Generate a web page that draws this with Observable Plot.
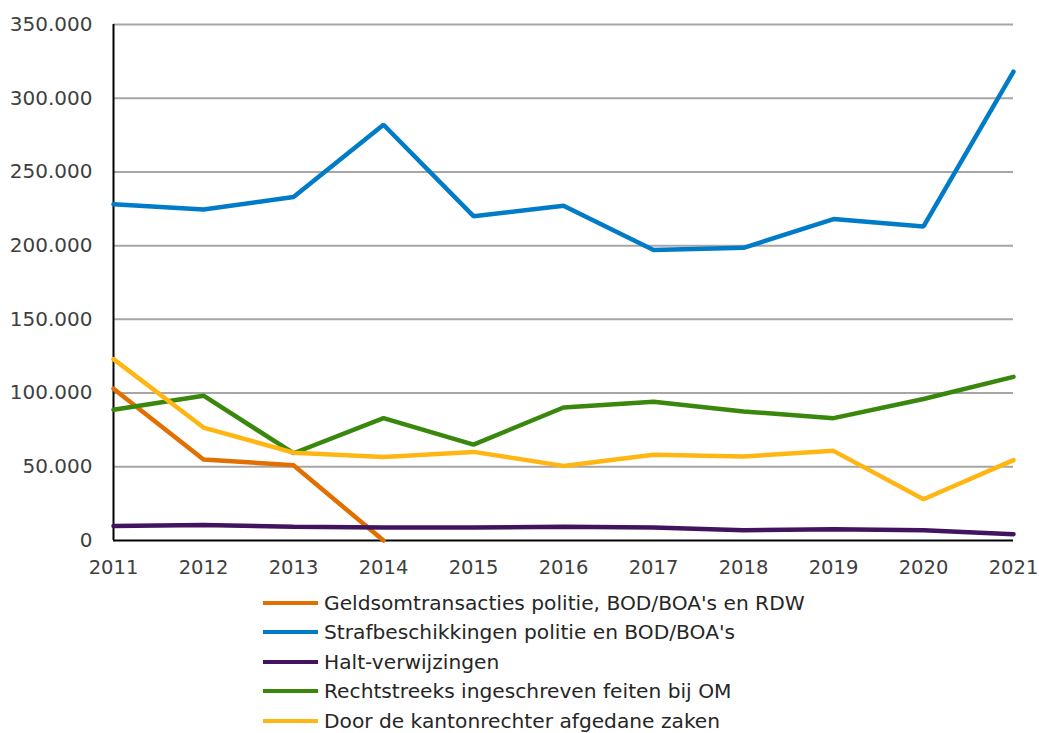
<!DOCTYPE html>
<html>
<head>
<meta charset="utf-8">
<script src="https://cdn.jsdelivr.net/npm/d3@7"></script>
<script src="https://cdn.jsdelivr.net/npm/@observablehq/plot@0.6"></script>
<style>
  body { margin: 0; background: #fff; font-family: "DejaVu Sans", Verdana, sans-serif; }
  #chart svg { display: block; overflow: visible; }
  #legend { padding-left: 263px; }
  .row { height: 29.5px; display: flex; align-items: center; font-size: 20.2px; color: #262626; white-space: nowrap; }
  .sw { width: 55px; height: 4px; margin-right: 6px; }
</style>
</head>
<body>
<div id="chart"></div>
<div id="legend"></div>
<script>
const years = [2011, 2012, 2013, 2014, 2015, 2016, 2017, 2018, 2019, 2020, 2021];
const seriesNames = [
  "Geldsomtransacties politie, BOD/BOA's en RDW",
  "Strafbeschikkingen politie en BOD/BOA's",
  "Halt-verwijzingen",
  "Rechtstreeks ingeschreven feiten bij OM",
  "Door de kantonrechter afgedane zaken"
];
const seriesColors = ["#E17000", "#007BC7", "#42145F", "#39870C", "#FFB612"];
const geldsom = [103000, 55000, 51000, 0, null, null, null, null, null, null, null];
const strafbeschikkingen = [228000, 224500, 233000, 282000, 220000, 227000, 197000, 198500, 218000, 213000, 318000];
const halt = [9800, 10500, 9300, 8800, 8800, 9400, 8800, 7000, 7600, 7000, 4300];
const rechtstreeks = [88700, 98200, 59200, 83000, 65000, 90200, 94100, 87500, 83000, 96000, 111000];
const kantonrechter = [123000, 76600, 59600, 56700, 60100, 50600, 58100, 57000, 60800, 28000, 54500];
const yTicks = [0, 50000, 100000, 150000, 200000, 250000, 300000, 350000];

const seriesValues = [geldsom, strafbeschikkingen, halt, rechtstreeks, kantonrechter];
const fmt = d => d === 0 ? "0" : d3.format(",")(d).replace(/,/g, ".");

const marks = [
  Plot.ruleY(yTicks.filter(t => t > 0), {stroke: "#A6A6A6", strokeWidth: 2}),
  Plot.ruleY([0], {stroke: "#000", strokeWidth: 2}),
  Plot.ruleX([2011], {stroke: "#000", strokeWidth: 2, y1: 0, y2: 350000})
];
seriesValues.forEach((vals, i) => {
  const data = years.map((y, j) => ({year: y, value: vals[j]}));
  marks.push(Plot.line(data, {
    x: "year", y: "value", stroke: seriesColors[i], strokeWidth: 4.5,
    strokeLinejoin: "miter", curve: "linear"
  }));
});

const chart = Plot.plot({
  width: 1039,
  height: 588,
  marginLeft: 113,
  marginRight: 26,
  marginTop: 24,
  marginBottom: 48,
  style: {fontFamily: "'DejaVu Sans', Verdana, sans-serif", color: "#404040", background: "#fff", overflow: "visible"},
  x: {domain: [2011, 2021], ticks: years, tickFormat: d => String(d), label: null},
  y: {domain: [0, 350000], ticks: yTicks, tickFormat: fmt, label: null},
  marks: [
    ...marks,
    Plot.axisY({ticks: yTicks, tickFormat: fmt, tickSize: 0, tickPadding: 21, label: null, fontSize: 20}),
    Plot.axisX({ticks: years, tickFormat: d => String(d), tickSize: 0, tickPadding: 20, label: null, fontSize: 19.5})
  ]
});
document.getElementById("chart").appendChild(chart);

const legend = document.getElementById("legend");
seriesNames.forEach((name, i) => {
  const row = document.createElement("div");
  row.className = "row";
  const sw = document.createElement("div");
  sw.className = "sw";
  sw.style.background = seriesColors[i];
  const lab = document.createElement("span");
  lab.textContent = name;
  row.appendChild(sw);
  row.appendChild(lab);
  legend.appendChild(row);
});
</script>
</body>
</html>
